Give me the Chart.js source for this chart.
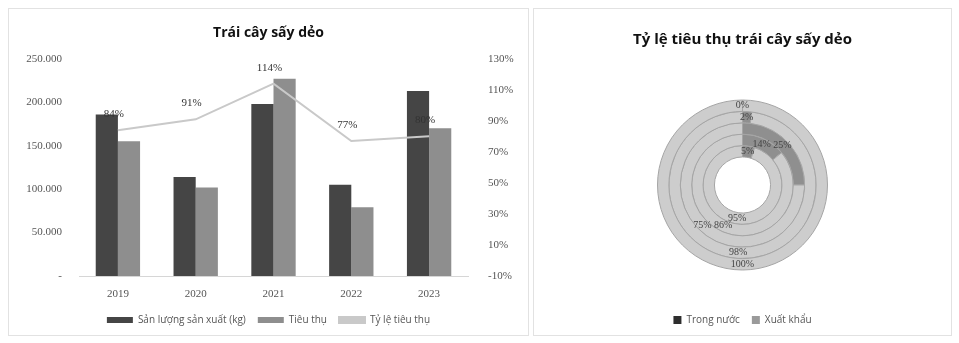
<!DOCTYPE html>
<html lang="vi">
<head>
<meta charset="UTF-8">
<title>Trái cây sấy dẻo</title>
<script src="https://cdn.jsdelivr.net/npm/chart.js"></script>
<style>
  body { margin: 0; background: #fff; width: 959px; height: 343px; position: relative; overflow: hidden; }
  .panel { position: absolute; border: 1px solid #e2e2e2; box-sizing: border-box; }
  #leftPanel { left: 8px; top: 8px; width: 521px; height: 328px; }
  #rightPanel { left: 533px; top: 8px; width: 419px; height: 328px; }
</style>
</head>
<body>
<div class="panel" id="leftPanel"><canvas id="barChart" width="519" height="326"></canvas></div>
<div class="panel" id="rightPanel"><canvas id="ringChart" width="417" height="326"></canvas></div>
<script>
// data
const years = ['2019', '2020', '2021', '2022', '2023'];
const production = [186000, 114000, 198000, 105000, 213000];
const consumption = [155000, 102000, 227000, 79000, 170000];
const ratio = [84, 91, 114, 77, 80];

const ringYears = ['2019', '2020', '2021', '2022', '2023'];
const domestic = [100, 98, 75, 86, 95];
const exportShare = [0, 2, 25, 14, 5];

const tickFont = { family: 'Liberation Serif', size: 11 };
const textColor = '#555';

// draws the % labels above the line points
const lineLabels = {
    id: 'lineLabels',
    afterDatasetsDraw(chart) {
        const ctx = chart.ctx;
        const meta = chart.getDatasetMeta(0);
        ctx.save();
        ctx.font = '11px "Liberation Serif"';
        ctx.fillStyle = '#333';
        ctx.textAlign = 'center';
        ctx.textBaseline = 'middle';
        meta.data.forEach((pt, i) => {
            ctx.fillText(ratio[i] + '%', pt.x - 4, pt.y - 16);
        });
        ctx.restore();
    }
};

const barChart = new Chart(document.getElementById('barChart'), {
    data: {
        labels: years,
        datasets: [
            {
                type: 'line',
                label: 'Tỷ lệ tiêu thụ',
                data: ratio,
                yAxisID: 'y2',
                borderColor: '#c9c9c9',
                backgroundColor: '#c9c9c9',
                borderWidth: 2,
                pointRadius: 0,
                order: 0
            },
            {
                type: 'bar',
                label: 'Sản lượng sản xuất (kg)',
                data: production,
                yAxisID: 'y',
                backgroundColor: '#454545',
                order: 1
            },
            {
                type: 'bar',
                label: 'Tiêu thụ',
                data: consumption,
                yAxisID: 'y',
                backgroundColor: '#8e8e8e',
                order: 1
            }
        ]
    },
    options: {
        responsive: false,
        animation: false,
        layout: { padding: { left: 0, right: 0, top: 4, bottom: 0 } },
        datasets: { bar: { categoryPercentage: 0.57, barPercentage: 1 } },
        plugins: {
            title: {
                display: true,
                text: 'Trái cây sấy dẻo',
                color: '#111',
                font: { family: 'Open Sans', size: 14, weight: 'bold' },
                padding: { top: 12, bottom: 17 }
            },
            legend: {
                position: 'bottom',
                labels: {
                    color: textColor,
                    font: { family: 'Open Sans', size: 10 },
                    boxWidth: 26,
                    boxHeight: 6,
                    padding: 12,
                    sort: (a, b) => (a.datasetIndex || 3) - (b.datasetIndex || 3)
                }
            },
            tooltip: { enabled: false }
        },
        scales: {
            x: {
                afterFit: s => { s.height = 27; },
                grid: { display: false, drawTicks: false },
                border: { color: '#d6d6d6' },
                ticks: { color: textColor, font: tickFont, padding: 12 }
            },
            y: {
                position: 'left',
                min: 0,
                max: 250000,
                afterFit: s => { s.width = 70; },
                grid: { display: false, drawTicks: false },
                border: { display: false },
                ticks: {
                    stepSize: 50000,
                    color: textColor,
                    font: tickFont,
                    padding: 17,
                    callback: v => v === 0 ? '-' : v.toLocaleString('de-DE')
                }
            },
            y2: {
                position: 'right',
                min: -10,
                max: 130,
                afterFit: s => { s.width = 60; },
                grid: { display: false, drawTicks: false },
                border: { display: false },
                ticks: {
                    stepSize: 20,
                    color: textColor,
                    font: tickFont,
                    padding: 20,
                    callback: v => v + '%'
                }
            }
        }
    },
    plugins: [lineLabels]
});

// draws the % labels on each ring
const ringLabels = {
    id: 'ringLabels',
    afterDatasetsDraw(chart) {
        const ctx = chart.ctx;
        ctx.save();
        ctx.font = '10px "Liberation Serif"';
        ctx.fillStyle = '#444';
        ctx.textAlign = 'center';
        ctx.textBaseline = 'middle';
        chart.data.datasets.forEach((ds, di) => {
            chart.getDatasetMeta(di).data.forEach((arc, i) => {
                const p = arc.tooltipPosition();
                ctx.fillText(ds.data[i] + '%', p.x, p.y);
            });
        });
        ctx.restore();
    }
};

const ringChart = new Chart(document.getElementById('ringChart'), {
    type: 'doughnut',
    data: {
        labels: ['Xuất khẩu', 'Trong nước'],
        datasets: ringYears.map((y, i) => ({
            label: y,
            data: [exportShare[i], domestic[i]],
            backgroundColor: ['#8f8f8f', '#cdcdcd'],
            borderColor: '#a5a5a5',
            borderWidth: 1
        }))
    },
    options: {
        responsive: false,
        animation: false,
        radius: 85,
        cutout: '33%',
        layout: { padding: { top: 0, bottom: 0 } },
        plugins: {
            title: {
                display: true,
                text: 'Tỷ lệ tiêu thụ trái cây sấy dẻo',
                color: '#111',
                font: { family: 'Open Sans', size: 15, weight: 'bold' },
                padding: { top: 22, bottom: 18 }
            },
            legend: {
                position: 'bottom',
                labels: {
                    color: textColor,
                    font: { family: 'Open Sans', size: 10 },
                    boxWidth: 8,
                    boxHeight: 8,
                    padding: 12,
                    generateLabels: chart => [
                        { text: 'Trong nước', fillStyle: '#2e2e2e', strokeStyle: '#2e2e2e', lineWidth: 0, fontColor: textColor },
                        { text: 'Xuất khẩu', fillStyle: '#9a9a9a', strokeStyle: '#9a9a9a', lineWidth: 0, fontColor: textColor }
                    ]
                }
            },
            tooltip: { enabled: false }
        }
    },
    plugins: [ringLabels]
});
</script>
</body>
</html>
